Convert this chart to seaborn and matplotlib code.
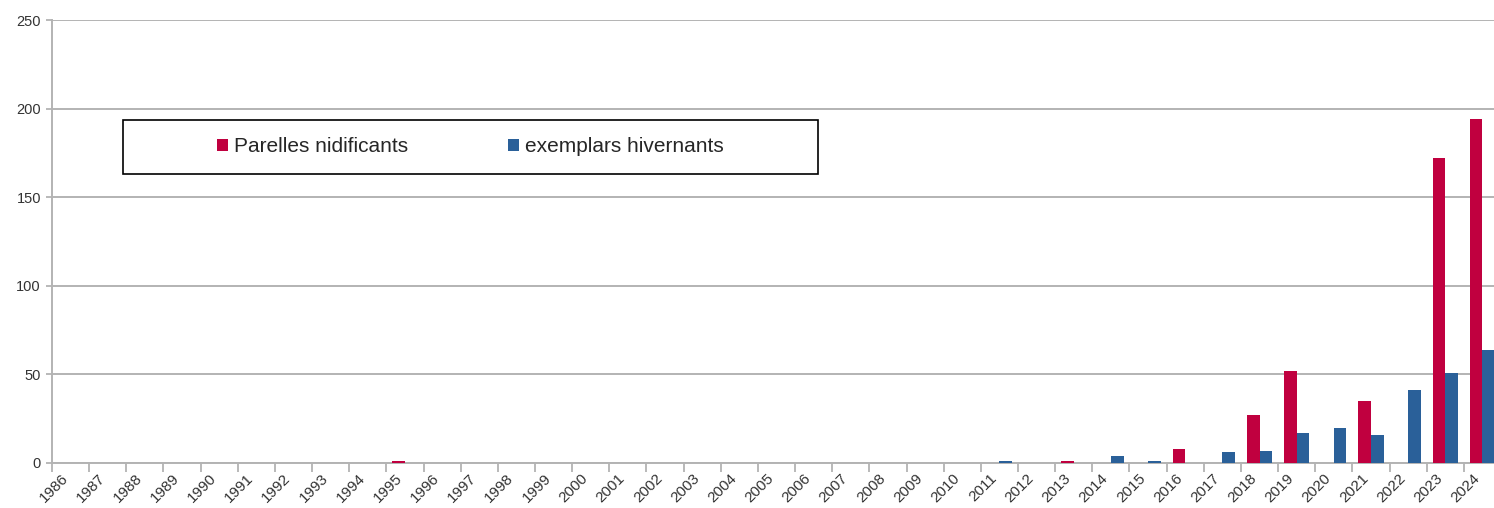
import numpy as np
import pandas as pd
import matplotlib
matplotlib.use("Agg")
import matplotlib.pyplot as plt
from matplotlib.patches import Rectangle
import seaborn as sns

years = list(range(1986, 2025))
series_names = ["Parelles nidificants", "exemplars hivernants"]

# values, 1986..2024
parelles = [0, 0, 0, 0, 0, 0, 0, 0, 0, 1,
            0, 0, 0, 0, 0, 0, 0, 0, 0, 0,
            0, 0, 0, 0, 0, 0, 0, 1, 0, 0,
            8, 0, 27, 52, 0, 35, 0, 172, 194]
hivernants = [0, 0, 0, 0, 0, 0, 0, 0, 0, 0,
              0, 0, 0, 0, 0, 0, 0, 0, 0, 0,
              0, 0, 0, 0, 0, 1, 0, 0, 4, 1,
              0, 6, 7, 17, 20, 16, 41, 51, 64]

colors = ["#C0003F", "#2A6099"]

df = pd.DataFrame({
    "year": [str(y) for y in years] * 2,
    "value": parelles + hivernants,
    "series": [series_names[0]] * len(years) + [series_names[1]] * len(years),
})

sns.set_style("white")
plt.rcParams["font.family"] = ["Liberation Sans", "DejaVu Sans"]

fig = plt.figure(figsize=(14.94, 5.08), dpi=100)
W, H = 1494, 508
ax = fig.add_axes([52 / W, 45 / H, (1501 - 52) / W, (463 - 20) / H])

sns.barplot(data=df, x="year", y="value", hue="series", hue_order=series_names,
            palette=colors, width=0.68, linewidth=0, saturation=1, ax=ax,
            errorbar=None, zorder=3)

n = len(years)
ax.set_xlim(-0.5, n - 0.5)
ax.set_ylim(0, 250)
ax.set_yticks(range(0, 251, 50))
ax.yaxis.grid(True, color="#b3b3b3", linewidth=1.4)
ax.set_axisbelow(True)

# ticks at category boundaries, labels at centres
ax.set_xticks(np.arange(-0.5, n, 1.0))
ax.set_xticklabels([])
ax.set_xticks(np.arange(n), minor=True)
ax.set_xticklabels([str(y) for y in years], minor=True, rotation=45,
                   ha="right", va="top", fontsize=11, color="#333333")
ax.tick_params(axis="x", which="major", bottom=True, length=6.5, width=1.3,
               color="#b3b3b3", direction="out")
ax.tick_params(axis="x", which="minor", bottom=True, length=0, pad=6)
ax.tick_params(axis="y", left=True, length=4, width=1.3, color="#b3b3b3",
               direction="out", labelsize=10.5, labelcolor="#333333", pad=4)
ax.set_xlabel("")
ax.set_ylabel("")

for s in ["top", "right"]:
    ax.spines[s].set_visible(False)
for s in ["left", "bottom"]:
    ax.spines[s].set_color("#b3b3b3")
    ax.spines[s].set_linewidth(1.4)

# legend: box drawn separately, entries centred inside
x0 = (123 - 52) / (1501 - 52)
x1 = (818 - 52) / (1501 - 52)
y0 = (463 - 174) / (463 - 20)
y1 = (463 - 120) / (463 - 20)
ax.add_patch(Rectangle((x0, y0), x1 - x0, y1 - y0, transform=ax.transAxes,
                       fill=False, edgecolor="black", linewidth=1.2, zorder=5))
handles, labels = ax.get_legend_handles_labels()
ax.legend(handles, labels, loc="center", bbox_to_anchor=((x0 + x1) / 2, (y0 + y1) / 2),
          ncol=2, frameon=False, fontsize=15, handlelength=0.5, handleheight=0.5,
          handletextpad=0.3, columnspacing=4.8)

fig.savefig("out.png", dpi=100)
